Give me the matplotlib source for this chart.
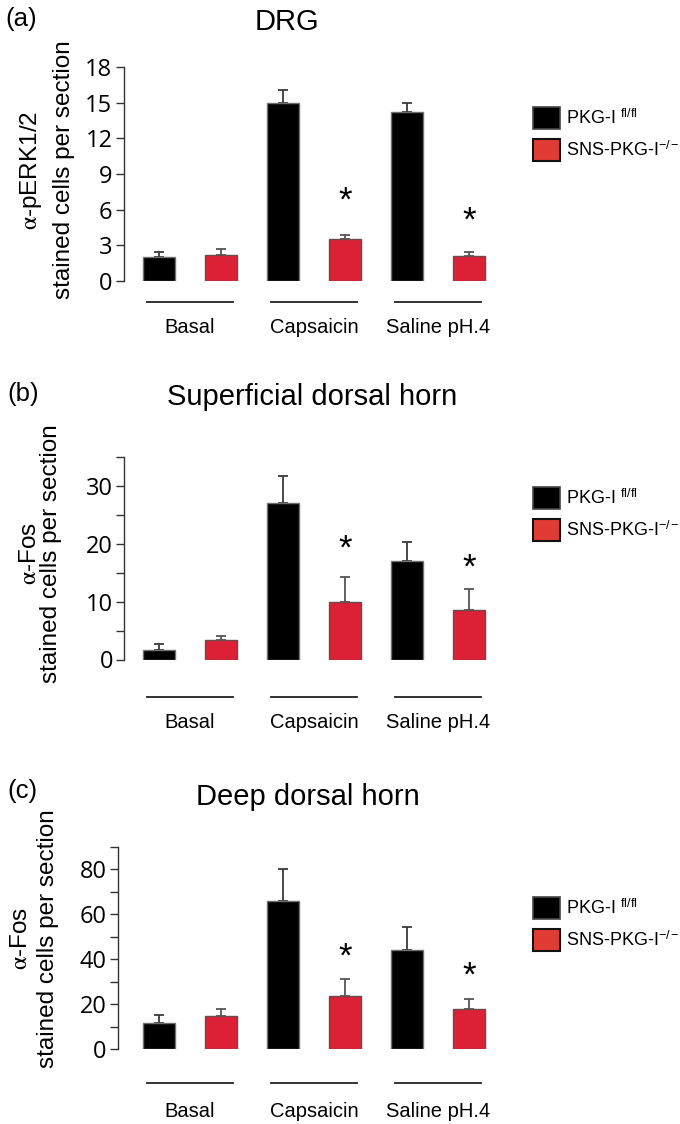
import matplotlib
matplotlib.use("Agg")
import matplotlib.pyplot as plt
import matplotlib.transforms as mtransforms
from matplotlib.patches import Patch

# ---------------- data ----------------
groups = ["Basal", "Capsaicin", "Saline pH.4"]
series_labels = ["PKG-I $^{\\mathregular{fl/fl}}$", "SNS-PKG-I$^{\\mathregular{-/-}}$"]

a_ctrl = [2.0, 15.0, 14.2]
a_ctrl_err = [0.4, 1.1, 0.8]
a_ko = [2.2, 3.5, 2.1]
a_ko_err = [0.5, 0.4, 0.3]
a_star = [6.7, 5.0]          # asterisk heights over capsaicin / saline KO bars

b_ctrl = [1.7, 27.1, 17.0]
b_ctrl_err = [1.0, 4.7, 3.3]
b_ko = [3.3, 10.0, 8.6]
b_ko_err = [0.7, 4.3, 3.6]
b_star = [19.1, 15.8]

c_ctrl = [11.6, 65.8, 44.1]
c_ctrl_err = [3.7, 14.3, 10.1]
c_ko = [14.5, 23.6, 17.6]
c_ko_err = [3.1, 7.4, 4.9]
c_star = [41.0, 32.4]

a_ticks = [0, 3, 6, 9, 12, 15, 18]
b_ticks = [0, 10, 20, 30]
b_minor = [5, 15, 25, 35]
c_ticks = [0, 20, 40, 60, 80]
c_minor = [10, 30, 50, 70, 90]

titles = ["DRG", "Superficial dorsal horn", "Deep dorsal horn"]
panel_tags = ["(a)", "(b)", "(c)"]
ylab1 = ["$\\mathrm{\\alpha}$-pERK1/2", "$\\mathrm{\\alpha}$-Fos", "$\\mathrm{\\alpha}$-Fos"]
ylab2 = "stained cells per section"

# ---------------- style ----------------
plt.rcParams["font.family"] = ["Liberation Sans", "DejaVu Sans"]
plt.rcParams["mathtext.fontset"] = "stix"

W, H = 680, 1124
fig = plt.figure(figsize=(W / 100, H / 100), dpi=100)
fig.patch.set_facecolor("white")

BLACK = "#000000"
RED = "#DC2036"
LEG_RED = "#E03C34"
STEP = 62.0  # px between bar centres


def fx(px):
    return px / W


def fy(py):
    return 1 - py / H


def panel(spine_x, base_y, top_y, ctrl, ctrl_err, ko, ko_err, stars, ymax,
          major, minor, title, title_xy, tag_xy, tag, lab1, lab1_x, lab2_x,
          lab_y, line_off, text_off, leg_top):
    first_c = 159.0
    left = -(first_c - spine_x) / STEP
    right = 5.5
    wpx = (right - left) * STEP
    hpx = base_y - top_y
    ax = fig.add_axes([fx(spine_x), fy(base_y), wpx / W, hpx / H])
    ax.set_xlim(left, right)
    ax.set_ylim(0, ymax)

    xc = [2 * i for i in range(len(groups))]
    xk = [2 * i + 1 for i in range(len(groups))]
    z = [0] * len(groups)
    ax.bar(xc, ctrl, width=0.52, color=BLACK, edgecolor="#707070", linewidth=1.0, zorder=3)
    ax.bar(xk, ko, width=0.52, color=RED, edgecolor="#6a4a4a", linewidth=1.0, zorder=3)
    ax.errorbar(xc, ctrl, yerr=[z, ctrl_err], fmt="none", ecolor="#3a3a3a",
                elinewidth=1.3, capsize=3.5, capthick=1.3, zorder=2)
    ax.errorbar(xk, ko, yerr=[z, ko_err], fmt="none", ecolor="#555555",
                elinewidth=1.3, capsize=3.5, capthick=1.3, zorder=2)
    for xi, sy in zip(xk[1:], stars):
        ax.text(xi, sy, "*", ha="center", va="center", fontsize=25, color="black")

    for s in ["top", "right", "bottom"]:
        ax.spines[s].set_visible(False)
    ax.spines["left"].set_color("#333333")
    ax.spines["left"].set_linewidth(1.0)
    ax.set_xticks([])
    ax.set_yticks(major)
    if minor:
        ax.set_yticks(minor, minor=True)
    ax.tick_params(axis="y", which="both", length=6, width=1.0, color="#333333",
                   direction="out", pad=2, labelsize=17)
    for lbl in ax.get_yticklabels():
        lbl.set_fontfamily("Open Sans")

    trans = mtransforms.blended_transform_factory(ax.transData, ax.transAxes)
    for g, name in enumerate(groups):
        cx = 2 * g + 0.5
        ax.plot([cx - 0.7, cx + 0.7], [-line_off / hpx] * 2, color="#222222",
                lw=1.3, transform=trans, clip_on=False)
        ax.text(cx, -text_off / hpx, name, transform=trans, ha="center",
                va="baseline", fontsize=14.5)

    fig.text(fx(title_xy[0]), fy(title_xy[1]), title, ha="center", va="center", fontsize=21)
    fig.text(fx(tag_xy[0]), fy(tag_xy[1]), tag, ha="left", va="center", fontsize=18.5)
    fig.text(fx(lab1_x), fy(lab_y), lab1, rotation=90, ha="center", va="center", fontsize=17.5)
    fig.text(fx(lab2_x), fy(lab_y), ylab2, rotation=90, ha="center", va="center", fontsize=17.5)

    handles = [Patch(facecolor=BLACK, edgecolor="#444444", linewidth=1.2),
               Patch(facecolor=LEG_RED, edgecolor="#111111", linewidth=1.5)]
    fig.legend(handles, series_labels, loc="upper left",
               bbox_to_anchor=(fx(533), fy(leg_top)), frameon=False,
               fontsize=13, handlelength=1.5, handleheight=1.5,
               handletextpad=0.3, labelspacing=0.55, borderpad=0,
               borderaxespad=0)
    return ax


panel(123.5, 281, 67, a_ctrl, a_ctrl_err, a_ko, a_ko_err, a_star, 18,
      a_ticks, None, titles[0], (287, 22), (5, 19), panel_tags[0], ylab1[0],
      31, 64, 170, 21, 52, 107)
panel(124, 659.5, 457, b_ctrl, b_ctrl_err, b_ko, b_ko_err, b_star, 35,
      b_ticks, b_minor, titles[1], (312, 397), (7, 394), panel_tags[1], ylab1[1],
      30, 51, 554, 37, 68.5, 487)
panel(117.5, 1049, 847, c_ctrl, c_ctrl_err, c_ko, c_ko_err, c_star, 90,
      c_ticks, c_minor, titles[2], (308, 797), (7, 791), panel_tags[2], ylab1[2],
      21, 48, 939, 34, 68, 897)

fig.savefig("out.png", dpi=100, facecolor="white")
